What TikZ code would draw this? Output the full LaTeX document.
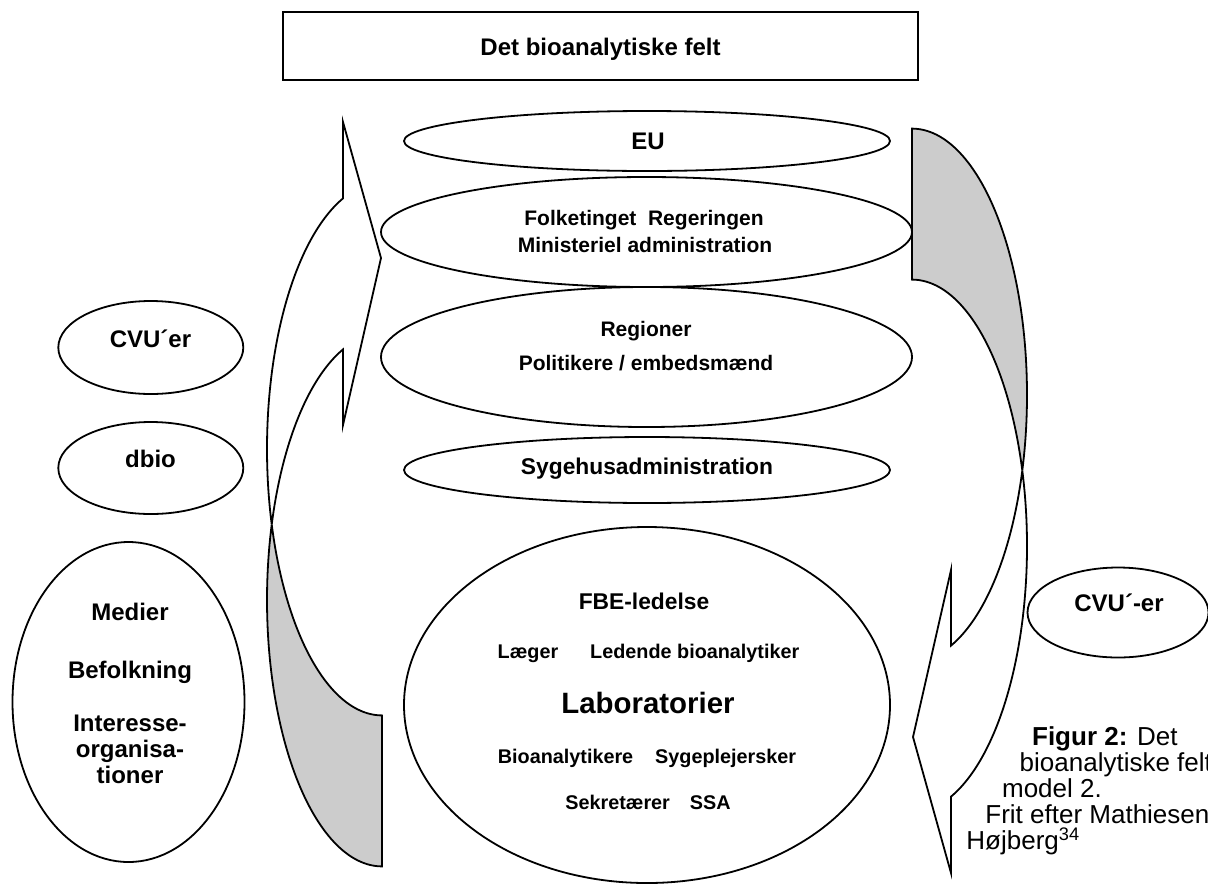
\documentclass[tikz,border=0pt]{standalone}
\usepackage{fontspec}
\setmainfont{Liberation Sans}
\usetikzlibrary{shapes.geometric}
\definecolor{shadegray}{HTML}{CCCCCC}
\tikzset{
  oval/.style={draw=black, line width=0.9pt, ellipse, inner sep=0pt},
  lbl/.style={font=\bfseries\fontsize{12}{14}\selectfont, anchor=base, inner sep=0pt},
  lblsm/.style={font=\bfseries\fontsize{10.5}{12}\selectfont, anchor=base, inner sep=0pt},
  lblmid/.style={font=\bfseries\fontsize{11.4}{13}\selectfont, anchor=base, inner sep=0pt},
  sml/.style={font=\bfseries\fontsize{9.9}{12}\selectfont, anchor=base, inner sep=0pt},
  bigl/.style={font=\bfseries\fontsize{14.7}{17}\selectfont, anchor=base, inner sep=0pt},
  capt/.style={font=\fontsize{13}{15}\selectfont, anchor=base west, inner sep=0pt},
  band/.style={draw=black, line width=0.9pt, line join=miter},
}
\newcommand{\curvedarrowshape}{%
  \filldraw[band, fill=shadegray]
    plot[domain=90:196.46, samples=70] ({382+115*cos(\x)},{600+266.4*sin(\x)})
    -- plot[domain=163.54:90, samples=70] ({382+115*cos(\x)},{449+266.4*sin(\x)})
    -- cycle;
  \filldraw[band, fill=white]
    plot[domain=163.54:250.2, samples=90] ({382+115*cos(\x)},{449+266.4*sin(\x)})
    -- (343,122) -- (381,258) -- (343,425)
    -- plot[domain=250.2:196.46, samples=70] ({382+115*cos(\x)},{600+266.4*sin(\x)})
    -- cycle;
}
\begin{document}
\begin{tikzpicture}[x=0.5pt, y=-0.5pt]
\useasboundingbox (0,0) rectangle (1208,884);
\clip (0,0) rectangle (1208,884);

% title box
\node[draw=black, line width=0.9pt, minimum width=317.5pt, minimum height=34pt, inner sep=0pt] (titlebox) at (600.5,46) {};
\node[lbl] (title) at (600.5,55.6) {Det bioanalytiske felt};

% central ellipses
\node[oval, minimum width=243pt, minimum height=30pt] (eu) at (647,141) {};
\node[oval, minimum width=265.5pt, minimum height=55pt] (folk) at (646.5,232) {};
\node[oval, minimum width=265.5pt, minimum height=70pt] (reg) at (646.5,357) {};
\node[oval, minimum width=243pt, minimum height=33pt] (syg) at (647,470) {};
\node[oval, minimum width=243pt, minimum height=178pt] (lab) at (647,705) {};

% left ellipses
\node[oval, minimum width=92.5pt, minimum height=46.5pt] (cvuL) at (150.8,347.5) {};
\node[oval, minimum width=92.5pt, minimum height=46pt] (dbio) at (150.8,468) {};
\node[oval, minimum width=116pt, minimum height=160pt] (med) at (128.5,702) {};

% right ellipse
\node[oval, minimum width=90.5pt, minimum height=45pt] (cvuR) at (1118,612.5) {};

% curved arrows
\curvedarrowshape
\begin{scope}[rotate around={180:(647,497.5)}]
\curvedarrowshape
\end{scope}

% texts
\node[lbl] (teu) at (648,149.6) {EU};
\node[lblsm] (tfolk1) at (644,225.6) {Folketinget\ \ Regeringen};
\node[lblsm] (tfolk2) at (645,252.6) {Ministeriel administration};
\node[lblsm] (treg1) at (646,336.6) {Regioner};
\node[lblsm] (treg2) at (646,370.6) {Politikere / embedsmænd};
\node[lblmid] (tsyg) at (647,474.2) {Sygehusadministration};
\node[lblmid] (tfbe) at (644,609.2) {FBE-ledelse};
\node[sml] (tlaeg) at (648.5,658) {Læger\hspace{16pt}Ledende bioanalytiker};
\node[bigl] (tlab) at (648,713.5) {Laboratorier};
\node[sml] (tbio) at (647,763) {Bioanalytikere\hspace{11pt}Sygeplejersker};
\node[sml] (tsek) at (648,809) {Sekretærer\hspace{10pt}SSA};

\node[lbl] (tcvuL) at (150.5,347.3) {CVU´er};
\node[lbl] (tdbio) at (150.5,467.3) {dbio};
\node[lbl] (tmed) at (130,620) {Medier};
\node[lbl] (tbef) at (130,678.3) {Befolkning};
\node[lbl] (tint1) at (130,731.6) {Interesse-};
\node[lbl] (tint2) at (130,757.6) {organisa-};
\node[lbl] (tint3) at (130,783.6) {tioner};

\node[lbl] (tcvuR) at (1119,611.7) {CVU´-er};

% caption
\node[capt] (cap1) at (1031.7,745) {\textbf{Figur 2:} Det};
\node[capt] (cap2) at (1019.3,771) {bioanalytiske felt};
\node[capt] (cap3) at (1001.7,797) {model 2.};
\node[capt] (cap4) at (985,823) {Frit efter Mathiesen og};
\node[capt] (cap5) at (966,849) {Højberg\textsuperscript{34}};
\end{tikzpicture}
\end{document}
